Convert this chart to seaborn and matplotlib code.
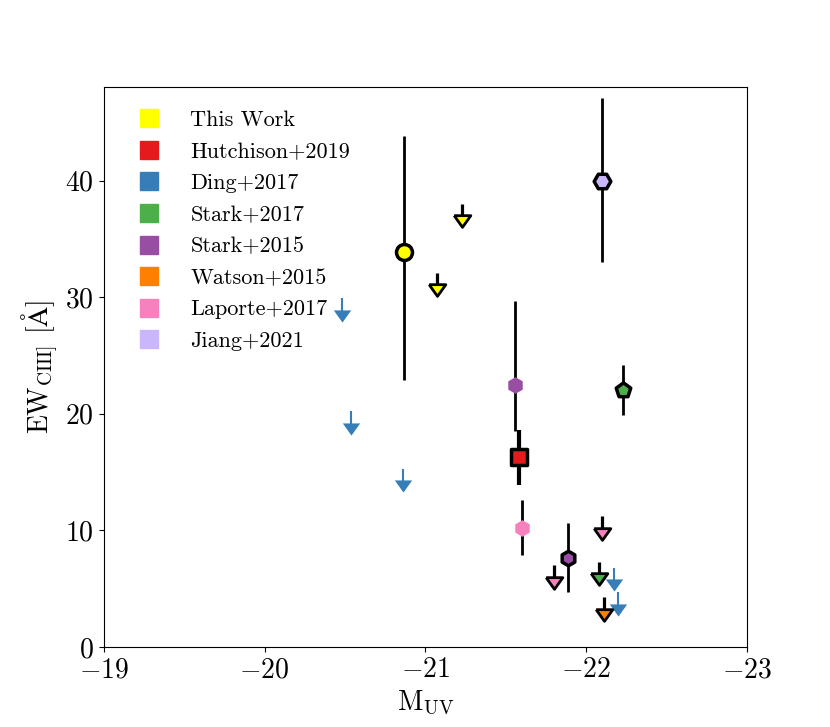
import matplotlib
matplotlib.use('Agg')
import matplotlib.pyplot as plt
from matplotlib.lines import Line2D
import seaborn as sns
import numpy as np

# Data (M_UV, EW of CIII] in Angstrom)
this_det_x = [-20.87]
this_det_y = [33.9]
this_det_lo = [11.0]
this_det_hi = [9.9]
this_lim_x = [-21.07, -21.23]
this_lim_y = [30.6, 36.5]

hutch_det_x = [-21.58]
hutch_det_y = [16.3]
hutch_det_lo = [2.4]
hutch_det_hi = [2.3]

ding_lim_x = [-20.48, -20.54, -20.86, -22.17, -22.20]
ding_lim_y = [28.4, 18.7, 13.8, 5.3, 3.2]

stark17_det_x = [-22.23]
stark17_det_y = [22.0]
stark17_det_lo = [2.1]
stark17_det_hi = [2.2]
stark17_lim_x = [-22.08]
stark17_lim_y = [5.8]

stark15_det_x = [-21.56, -21.89]
stark15_det_y = [22.5, 7.6]
stark15_det_lo = [4.0, 2.9]
stark15_det_hi = [7.2, 3.0]

watson_lim_x = [-22.11]
watson_lim_y = [2.75]

laporte_det_x = [-21.60]
laporte_det_y = [10.2]
laporte_det_lo = [2.3]
laporte_det_hi = [2.4]
laporte_lim_x = [-21.80, -22.10]
laporte_lim_y = [5.5, 9.7]

jiang_det_x = [-22.10]
jiang_det_y = [40.0]
jiang_det_lo = [7.0]
jiang_det_hi = [7.1]

labels = ['This Work', 'Hutchison+2019', 'Ding+2017', 'Stark+2017',
          'Stark+2015', 'Watson+2015', 'Laporte+2017', 'Jiang+2021']

set1 = sns.color_palette('Set1', 9)
colors = {
    'This Work': '#ffff00',
    'Hutchison+2019': set1[0],
    'Ding+2017': set1[1],
    'Stark+2017': set1[2],
    'Stark+2015': set1[3],
    'Watson+2015': set1[4],
    'Laporte+2017': set1[7],
    'Jiang+2021': '#cab6fb',
}

plt.rcParams['font.family'] = 'serif'
plt.rcParams['font.serif'] = ['cmr10']
plt.rcParams['mathtext.fontset'] = 'cm'
plt.rcParams['axes.formatter.use_mathtext'] = True

fig, ax = plt.subplots(figsize=(8.3, 7.27), dpi=100)

# downward triangle, a bit wider than tall, closed so the edge is complete
tri = [(-1, 0.7), (1, 0.7), (0, -0.7), (-1, 0.7)]
arrow_len = 1.5


def detection(x, y, lo, hi, color, marker, ms, edge=True, elw=2.0, z=3):
    ax.errorbar(x, y, yerr=[lo, hi], fmt='none', ecolor='k', elinewidth=elw, zorder=z)
    sns.scatterplot(x=x, y=y, ax=ax, marker=marker, s=ms ** 2, color=color,
                    edgecolor='k' if edge else color, linewidth=2.5 if edge else 0,
                    zorder=z + 0.5, legend=False)


def upper_limit(x, y, color, outlined=True):
    up = [arrow_len] * len(y)
    if outlined:
        ax.errorbar(x, y, yerr=[[0] * len(y), up], fmt='none', ecolor='k',
                    elinewidth=2.3, zorder=3)
        sns.scatterplot(x=x, y=y, ax=ax, marker=tri, s=12 ** 2, color=color,
                        edgecolor='k', linewidth=2, zorder=3.5, legend=False)
    else:
        ax.errorbar(x, y, yerr=[[0] * len(y), up], fmt='none', ecolor=color,
                    elinewidth=1.5, zorder=3)
        sns.scatterplot(x=x, y=y, ax=ax, marker=tri, s=12.5 ** 2, color=color,
                        linewidth=0, zorder=3.5, legend=False)


upper_limit(ding_lim_x, ding_lim_y, colors['Ding+2017'], outlined=False)
upper_limit(this_lim_x, this_lim_y, colors['This Work'])
upper_limit(stark17_lim_x, stark17_lim_y, colors['Stark+2017'])
upper_limit(watson_lim_x, watson_lim_y, colors['Watson+2015'])
upper_limit(laporte_lim_x, laporte_lim_y, colors['Laporte+2017'])

detection(stark15_det_x[:1], stark15_det_y[:1], stark15_det_lo[:1], stark15_det_hi[:1],
          colors['Stark+2015'], 'h', 12, edge=False)
detection(stark15_det_x[1:], stark15_det_y[1:], stark15_det_lo[1:], stark15_det_hi[1:],
          colors['Stark+2015'], 'h', 10.5)
detection(hutch_det_x, hutch_det_y, hutch_det_lo, hutch_det_hi,
          colors['Hutchison+2019'], 's', 11.5, elw=3, z=4)
detection(laporte_det_x, laporte_det_y, laporte_det_lo, laporte_det_hi,
          colors['Laporte+2017'], 'h', 12, edge=False)
detection(stark17_det_x, stark17_det_y, stark17_det_lo, stark17_det_hi,
          colors['Stark+2017'], 'p', 11)
detection(jiang_det_x, jiang_det_y, jiang_det_lo, jiang_det_hi,
          colors['Jiang+2021'], 'H', 12)
detection(this_det_x, this_det_y, this_det_lo, this_det_hi,
          colors['This Work'], 'o', 11.5)

handles = [Line2D([], [], ls='none', marker='s', ms=13, mfc=colors[l], mec=colors[l])
           for l in labels]
ax.legend(handles, labels, loc='upper left', frameon=False, fontsize=16,
          labelspacing=0.54, handletextpad=0.85, borderaxespad=0.65)

ax.set_xlim(-19, -23)
ax.set_ylim(0, 48)
ax.set_xticks([-19, -20, -21, -22, -23])
ax.set_yticks([0, 10, 20, 30, 40])
ax.tick_params(labelsize=20)
ax.set_xlabel(r'$\mathrm{M_{UV}}$', fontsize=20)
ax.set_ylabel(r'$\mathrm{EW_{CIII]}}$ [$\mathrm{\AA}$]', fontsize=20)

fig.savefig('out.png', dpi=100)
